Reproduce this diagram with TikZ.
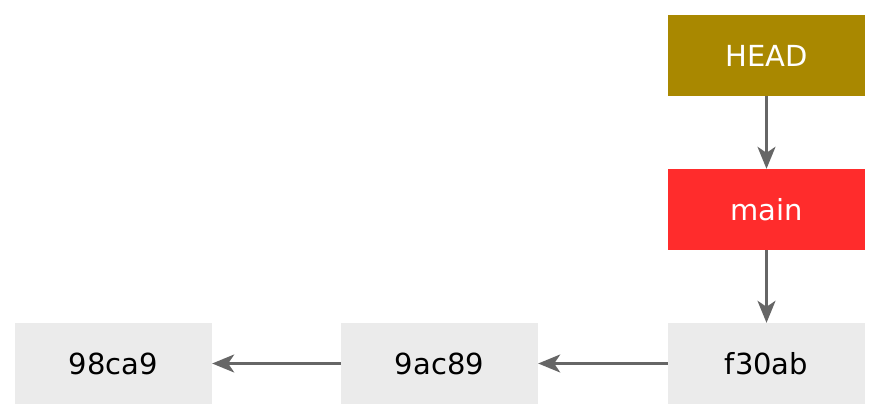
\documentclass[tikz,border=0pt]{standalone}
\usepackage{fontspec}
\setmainfont{DejaVu Sans}
\usetikzlibrary{arrows.meta}
\definecolor{headc}{HTML}{A98800}
\definecolor{mainc}{HTML}{FF2C2C}
\definecolor{commitc}{HTML}{EBEBEB}
\definecolor{arrc}{HTML}{666666}
\begin{document}
\begin{tikzpicture}[x=1pt,y=-1pt,
  box/.style={minimum width=197pt,minimum height=81pt,inner sep=0pt,font=\fontsize{29}{35}\selectfont},
  commit/.style={box,fill=commitc,text=black},
  ref/.style={box,text=white},
  conn/.style={draw=arrc,line width=2.2pt,-{Stealth[length=22pt,width=18pt,inset=6pt]}}]
\useasboundingbox (0,0) rectangle (880,419);
\node[ref,fill=headc] (head) at (766.5,55.5) {HEAD};
\node[ref,fill=mainc] (main) at (766.5,209.5) {main};
\node[commit] (f30ab) at (766.5,363.5) {f30ab};
\node[commit] (c9ac89) at (439.5,363.5) {9ac89};
\node[commit] (c98ca9) at (113.5,363.5) {98ca9};
\draw[conn] (head) -- (main);
\draw[conn] (main) -- (f30ab);
\draw[conn] (f30ab) -- (c9ac89);
\draw[conn] (c9ac89) -- (c98ca9);
\end{tikzpicture}
\end{document}
